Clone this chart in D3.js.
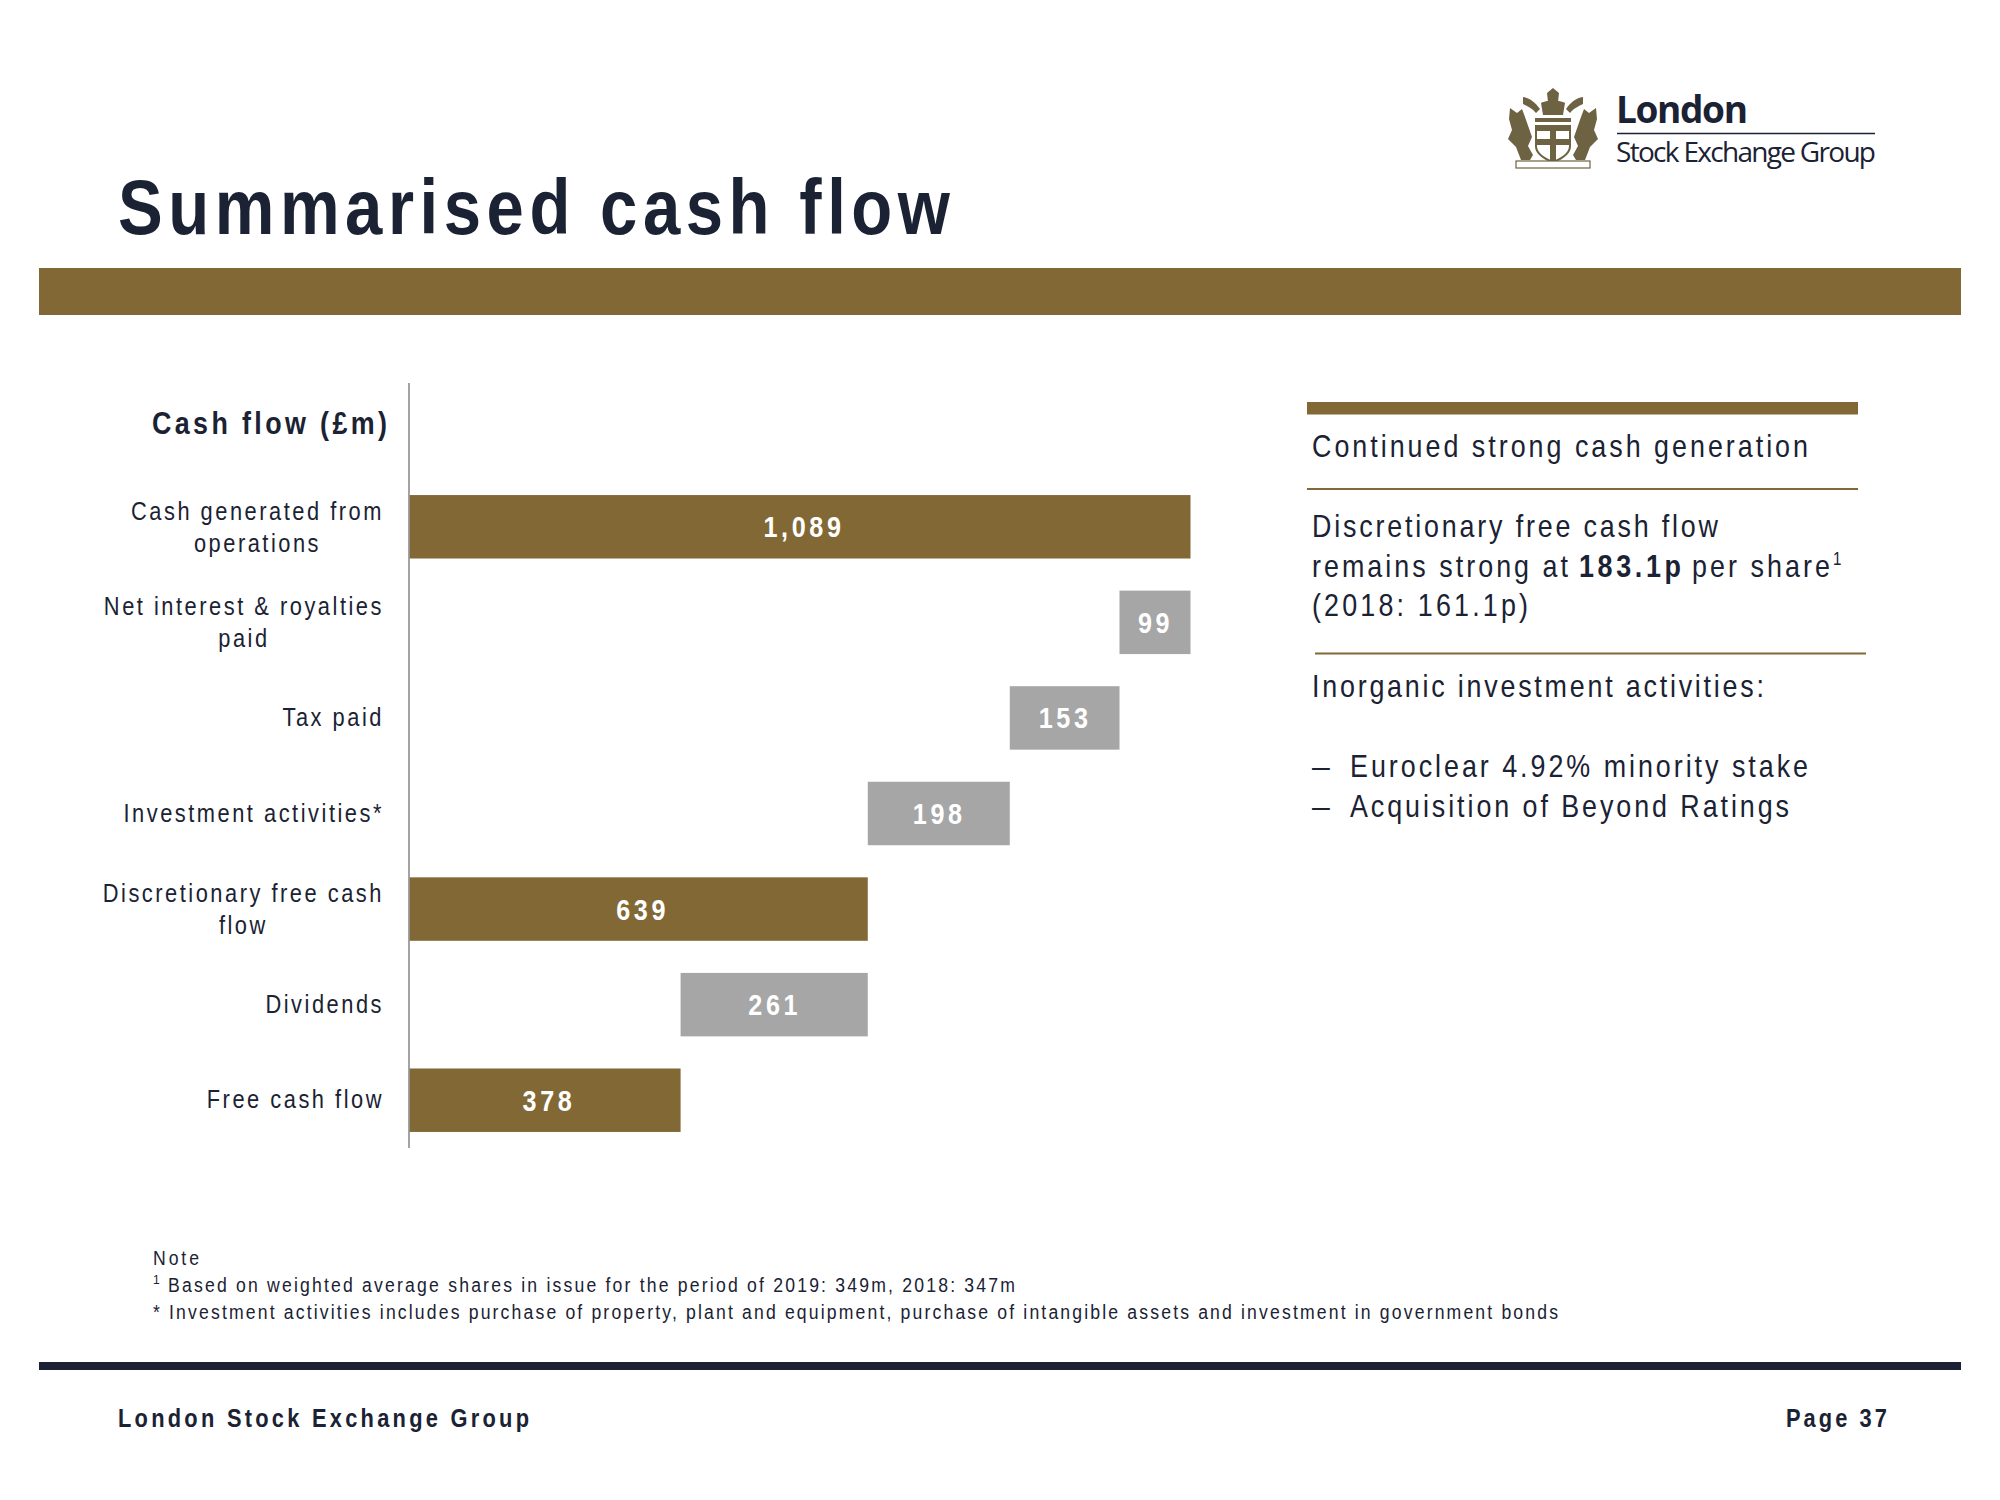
<!DOCTYPE html>
<html><head><meta charset="utf-8">
<script src="https://cdn.jsdelivr.net/npm/d3@7/dist/d3.min.js"></script>
<style>html,body{margin:0;padding:0;background:#fff}svg{display:block}text{font-family:"Liberation Sans",Arial,sans-serif}</style>
</head><body><svg id="c" width="2000" height="1500"></svg>
<script>
const categories = ["Cash generated from|operations","Net interest & royalties|paid","Tax paid","Investment activities*","Discretionary free cash|flow","Dividends","Free cash flow"];
const values = [1089,99,153,198,639,261,378];
const valueLabels = ["1,089","99","153","198","639","261","378"];
const kinds = ["total","down","down","down","total","down","total"];
const gold="#826835",grey="#a6a6a6",navy="#1a2233";
const svg=d3.select("#c");
const x=d3.scaleLinear().domain([0,1089]).range([409.5,1190.5]);
const y=d3.scaleBand().domain(categories).range([479,1148]).paddingInner(0.336).paddingOuter(0.168);
const sx=0.84;

function T(s,px,py,size,opt={}){
  const k=opt.k||sx;
  const t=svg.append("text").attr("x",0).attr("y",0).attr("transform",`translate(${px},${py}) scale(${k},1)`)
    .attr("font-size",size).attr("fill",opt.fill||navy).attr("font-weight",opt.bold?700:400).text(s);
  if(opt.w){t.attr("textLength",opt.w/k).attr("lengthAdjust","spacing");}
  return t;
}
function R(a,b,w,h,f){svg.append("rect").attr("x",a).attr("y",b).attr("width",w).attr("height",h).attr("fill",f);}

// frame
T("Summarised cash flow",118,234,78,{bold:true,w:832,k:0.86});
R(39,268,1922,47,gold);
R(39,1362,1922,8,navy);
T("London Stock Exchange Group",118,1427,26,{bold:true,w:411});
T("Page 37",1786,1427,26,{bold:true,w:101});

// waterfall
let run=0;
const rows=values.map((v,i)=>{
  let a,b;
  if(kinds[i]==="total"){a=0;b=v;run=v;} else {a=run-v;b=run;run=a;}
  return {c:categories[i],a,b,k:kinds[i],l:valueLabels[i]};
});
svg.selectAll("rect.bar").data(rows).join("rect").attr("class","bar")
  .attr("x",d=>x(d.a)).attr("width",d=>x(d.b)-x(d.a))
  .attr("y",d=>y(d.c)).attr("height",y.bandwidth())
  .attr("fill",d=>d.k==="total"?gold:grey);
svg.selectAll("text.val").data(rows).join("text").attr("class","val")
  .attr("transform",d=>`translate(${(x(d.a)+x(d.b))/2+(d.k==="total"?4:0.5)},${y(d.c)+y.bandwidth()/2+10.5}) scale(${sx},1)`)
  .attr("text-anchor","middle").attr("fill","#fff").attr("font-weight",700)
  .attr("font-size",30).attr("letter-spacing",4.3).text(d=>d.l);

// axis line + labels
svg.append("line").attr("x1",409).attr("x2",409).attr("y1",383).attr("y2",1148).attr("stroke","#858585").attr("stroke-width",1.5);
T("Cash flow (£m)",152,434,32,{bold:true,w:235});
const labelRight=384, labelLs=3.0, labelSize=26;
categories.forEach(c=>{
  const lines=c.split("|"), cy=y(c)+y.bandwidth()/2;
  const ts=lines.map(s=>svg.append("text").attr("font-size",labelSize).attr("letter-spacing",labelLs).attr("fill",navy).text(s));
  const w=Math.max(...ts.map(t=>t.node().getComputedTextLength()))*sx;
  ts.forEach((t,i)=>t.attr("text-anchor","middle")
    .attr("transform",`translate(${labelRight-w/2},${lines.length>1?cy-7+i*32:cy+8}) scale(${sx},1)`));
});

// side panel
R(1307,402,551,12.5,gold);
svg.append("line").attr("x1",1307).attr("x2",1858).attr("y1",489).attr("y2",489).attr("stroke",gold).attr("stroke-width",2);
svg.append("line").attr("x1",1315).attr("x2",1866).attr("y1",653.5).attr("y2",653.5).attr("stroke",gold).attr("stroke-width",2);
const ps=32;
T("Continued strong cash generation",1312,456.5,ps,{w:496});
T("Discretionary free cash flow",1312,537,ps,{w:406});
T("remains strong at",1312,577,ps,{w:256});
T("183.1p",1579,577,ps,{bold:true,w:102});
T("per share",1692,577,ps,{w:138});
T("1",1833,565,18,{});
T("(2018: 161.1p)",1312,616,ps,{w:216});
T("Inorganic investment activities:",1312,697,ps,{w:452});
T("–",1312,777,ps,{k:1});
T("Euroclear 4.92% minority stake",1350,777,ps,{w:458});
T("–",1312,817,ps,{k:1});
T("Acquisition of Beyond Ratings",1350,817,ps,{w:439});

// notes
T("Note",153,1265,21,{w:46});
T("1",153,1284,12,{k:1});
T("Based on weighted average shares in issue for the period of 2019: 349m, 2018: 347m",168,1292,21,{w:847});
T("* Investment activities includes purchase of property, plant and equipment, purchase of intangible assets and investment in government bonds",153,1319,21,{w:1405});

// logo
const lg=svg.append("g");
lg.append("text").attr("x",1616).attr("y",123).attr("font-size",37).attr("font-weight",700).attr("fill",navy).attr("textLength",132).attr("style","font-family:'Open Sans'").text("London");
lg.append("line").attr("x1",1617).attr("x2",1875).attr("y1",133.5).attr("y2",133.5).attr("stroke",navy).attr("stroke-width",1.5);
lg.append("text").attr("x",1616).attr("y",162).attr("font-size",28).attr("fill",navy).attr("textLength",260).attr("style","font-family:'Open Sans'").text("Stock Exchange Group");
const cr=svg.append("g").attr("fill","#6d6343");
const crestShapes=[
 "M1553 88l-6 5 1 9h10l1-9z",
 "M1541 103c4-3 20-3 24 0l-2 12h-20z",
 "M1523 97c7 1 12 5 17 12l-4 4c-4-5-9-7-13-9z",
 "M1583 97c-7 1-12 5-17 12l4 4c4-5 9-7 13-9z",
 "M1510 108l7 5 5-4 3 8 7 20-4 9 5 9-3 5h-9l-5-13-8-8 4-9-3-11z",
 "M1596 108l-7 5-5-4-3 8-7 20 4 9-5 9 3 5h9l5-13 8-8-4-9 3-11z",
 "M1535 118h36v4h-36z"
];
crestShapes.forEach(d=>cr.append("path").attr("d",d));
cr.append("path").attr("d","M1536 126h34v20c0 8-9 13-17 16-8-3-17-8-17-16z").attr("fill","#fff").attr("stroke","#6d6343").attr("stroke-width",2);
cr.append("rect").attr("x",1550).attr("y",126).attr("width",6).attr("height",36);
cr.append("rect").attr("x",1536).attr("y",139).attr("width",34).attr("height",6);
cr.append("rect").attr("x",1536).attr("y",126).attr("width",34).attr("height",5);
svg.append("rect").attr("x",1516).attr("y",161).attr("width",74).attr("height",7).attr("fill","#fff").attr("stroke","#6d6343").attr("stroke-width",1.2);
</script></body></html>
